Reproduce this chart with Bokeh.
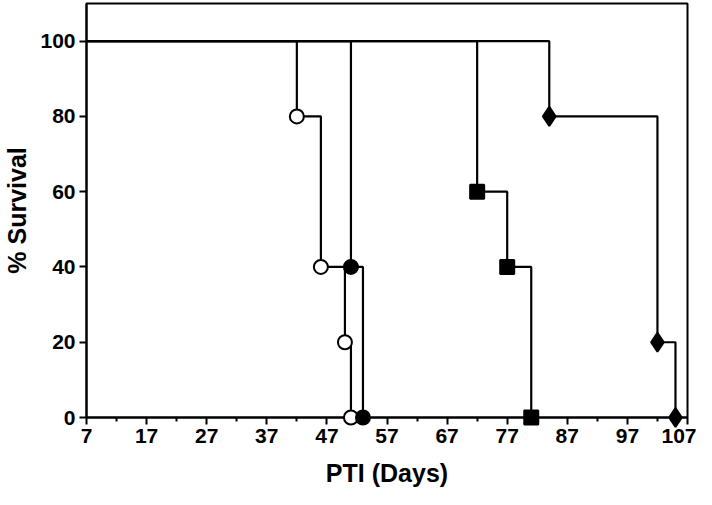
from bokeh.plotting import figure
from bokeh.models import FixedTicker, Range1d
from bokeh.embed import file_html
from bokeh.resources import INLINE

# Kaplan-Meier style survival data (days, % survival)
open_days = [7, 42, 46, 50, 51]
open_surv = [100, 80, 40, 20, 0]
filled_days = [7, 51, 53]
filled_surv = [100, 40, 0]
square_days = [7, 72, 77, 81]
square_surv = [100, 60, 40, 0]
diamond_days = [7, 84, 102, 105]
diamond_surv = [100, 80, 20, 0]

x_ticks = [7, 17, 27, 37, 47, 57, 67, 77, 87, 97, 107]
x_minor = [12, 22, 32, 42, 52, 62, 72, 82, 92, 102]
y_ticks = [0, 20, 40, 60, 80, 100]

FONT = "Liberation Sans"

p = figure(width=696, height=489, output_backend="svg", toolbar_location=None,
           x_range=Range1d(7, 107), y_range=Range1d(0, 110),
           min_border_left=86, min_border_right=9, min_border_top=3,
           min_border_bottom=72)
p.grid.visible = False
p.outline_line_color = "black"
p.outline_line_width = 2
p.background_fill_color = "white"
p.border_fill_color = "white"

p.xaxis.ticker = FixedTicker(ticks=x_ticks, minor_ticks=x_minor)
p.yaxis.ticker = FixedTicker(ticks=y_ticks)
for ax in (p.xaxis, p.yaxis):
    ax.axis_line_width = 2
    ax.axis_line_color = "black"
    ax.major_tick_line_width = 2
    ax.minor_tick_line_width = 2
    ax.major_tick_in = 0
    ax.minor_tick_in = 0
    ax.major_tick_out = 7
    ax.major_label_text_font = FONT
    ax.major_label_text_font_style = "bold"
    ax.major_label_text_font_size = "21px"
    ax.major_label_text_color = "black"
    ax.axis_label_text_font = FONT
    ax.axis_label_text_font_style = "bold"
    ax.axis_label_text_font_size = "25px"
    ax.axis_label_text_color = "black"
p.xaxis.minor_tick_out = 4
p.yaxis.minor_tick_out = 0
p.yaxis.minor_tick_line_color = None
p.xaxis.axis_label = "PTI (Days)"
p.yaxis.axis_label = "% Survival"
p.xaxis.major_label_standoff = 4
p.yaxis.major_label_standoff = 4
p.xaxis.axis_label_standoff = 13
p.yaxis.axis_label_standoff = 6

series = [
    (open_days, open_surv, "circle", "white"),
    (filled_days, filled_surv, "circle", "black"),
    (square_days, square_surv, "square", "black"),
    (diamond_days, diamond_surv, "diamond", "black"),
]
for xs, ys, marker, fill in series:
    p.step(xs, ys, mode="after", line_color="black", line_width=2.2)
for xs, ys, marker, fill in series:
    size = 19 if marker == "diamond" else 14
    r = p.scatter(xs[1:], ys[1:], marker=marker, size=size, fill_color=fill,
                  line_color="black", line_width=2)
    r.level = "overlay"

open("out.html", "w").write(file_html(p, INLINE))
